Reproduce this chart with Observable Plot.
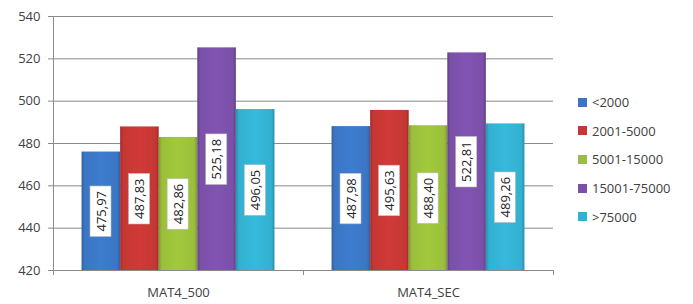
<!DOCTYPE html>
<html><head><meta charset="utf-8">
<script src="https://cdn.jsdelivr.net/npm/d3@7"></script>
<script src="https://cdn.jsdelivr.net/npm/@observablehq/plot@0.6"></script>
<style>
body{margin:0;background:#fff;font-family:"Open Sans",sans-serif;}
#wrap{position:relative;width:693px;height:304px;}
#legend{position:absolute;left:578px;top:88px;font-size:13px;color:#404040;}
#legend div{height:28.6px;display:flex;align-items:center;}
#legend span.sw{display:inline-block;width:9px;height:9px;margin-right:5px;}
</style></head>
<body><div id="wrap"><div id="legend"></div></div>
<script>
const categories = ["MAT4_500", "MAT4_SEC"];
const series = ["<2000", "2001-5000", "5001-15000", "15001-75000", ">75000"];
const values500 = [475.97, 487.83, 482.86, 525.18, 496.05];
const valuesSec = [487.98, 495.63, 488.40, 522.81, 489.26];
const yTicks = [420, 440, 460, 480, 500, 520, 540];
const colors = ["#3b76c4", "#c53734", "#9abf3a", "#7a50a8", "#33b0d0"];

const valuesByCat = [values500, valuesSec];
const data = [];
categories.forEach((c, ci) => series.forEach((s, si) => data.push({cat: c, ci, s, si, v: valuesByCat[ci][si]})));

const inner = d3.scaleBand().domain(series).range([0, 1]).paddingOuter(0.74).paddingInner(0);
const base = 420;
const fmt = v => v.toFixed(2).replace(".", ",");

const chart = Plot.plot({
  width: 693, height: 304,
  marginLeft: 53, marginRight: 140, marginTop: 16, marginBottom: 34,
  style: {fontFamily: "'Open Sans', sans-serif", fontSize: "13px", color: "#404040", background: "transparent"},
  x: {domain: [0, categories.length], axis: null},
  y: {domain: [420, 540], axis: null},
  marks: [
    Plot.ruleY(yTicks.slice(1), {stroke: "#8a8a8a", strokeWidth: 1}),
    Plot.axisY({ticks: yTicks, tickSize: 5, tickPadding: 8, stroke: "#8a8a8a", fontSize: 13, label: null}),
    Plot.ruleX([0], {stroke: "#8a8a8a"}),
    Plot.rectY(data, {
      x1: d => d.ci + inner(d.s),
      x2: d => d.ci + inner(d.s) + inner.bandwidth(),
      y1: base, y2: "v",
      fill: d => "url(#grad" + d.si + ")"
    }),
    Plot.ruleY([420], {stroke: "#8a8a8a"}),
    Plot.axisX({ticks: d3.range(categories.length + 1), tickFormat: () => "", tickSize: 5, stroke: "#8a8a8a", label: null}),
    Plot.axisX({ticks: categories.map((c, i) => i + 0.5), tickFormat: t => categories[Math.floor(t)], tickSize: 0, tickPadding: 17, fontSize: 13, label: null}),
    Plot.text(data, {
      x: d => d.ci + inner(d.s) + inner.bandwidth() / 2,
      y: d => (d.v + base) / 2,
      text: d => fmt(d.v),
      rotate: -90,
      fontSize: 13,
      fill: "#222",
      className: "vlab"
    })
  ],
  color: {type: "identity"}
});
document.getElementById("wrap").prepend(chart);

// gradients for bevel look
const svg = d3.select(chart);
const defs = svg.insert("defs", ":first-child");
colors.forEach((c, i) => {
  const g = defs.append("linearGradient").attr("id", "grad" + i).attr("x1", 0).attr("x2", 1).attr("y1", 0).attr("y2", 0);
  const col = d3.color(c);
  g.append("stop").attr("offset", 0).attr("stop-color", col.darker(0.6));
  g.append("stop").attr("offset", 0.08).attr("stop-color", col);
  g.append("stop").attr("offset", 0.5).attr("stop-color", col.brighter(0.15));
  g.append("stop").attr("offset", 0.92).attr("stop-color", col);
  g.append("stop").attr("offset", 1).attr("stop-color", col.darker(0.6));
});

// white boxes behind value labels
svg.selectAll("g.vlab text, .vlab text").each(function() {
  const bb = this.getBBox();
  const px = 5, py = 1.5;
  d3.select(this.parentNode).insert("rect", () => this)
    .attr("transform", this.getAttribute("transform"))
    .attr("x", bb.x - px).attr("y", bb.y - py)
    .attr("width", bb.width + 2 * px).attr("height", bb.height + 2 * py)
    .attr("fill", "#fff").attr("stroke", "#bbb").attr("stroke-width", 0.6);
});

// legend
const leg = d3.select("#legend");
series.forEach((s, i) => {
  const row = leg.append("div");
  row.append("span").attr("class", "sw").style("background", colors[i]);
  row.append("span").text(s);
});
</script>
</body></html>
